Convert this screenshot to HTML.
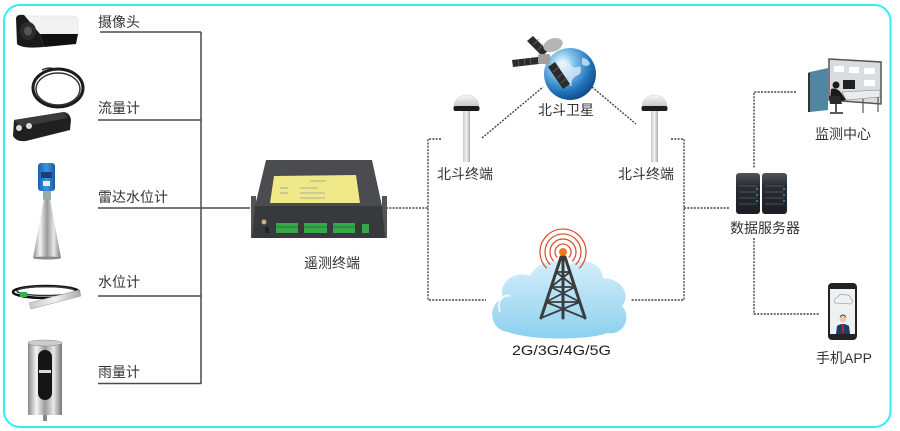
<!DOCTYPE html>
<html><head><meta charset="utf-8">
<style>
html,body{margin:0;padding:0;background:#fff;}
svg{display:block;}
text{font-family:"Liberation Sans","Noto Sans CJK SC",sans-serif;fill:#333;font-size:14px;}
</style></head>
<body>
<svg width="900" height="431" viewBox="0 0 900 431" xmlns="http://www.w3.org/2000/svg">
<defs>
  <linearGradient id="metal" x1="0" y1="0" x2="1" y2="0">
    <stop offset="0" stop-color="#8a8a8a"/><stop offset="0.25" stop-color="#f4f4f4"/>
    <stop offset="0.5" stop-color="#9a9a9a"/><stop offset="0.75" stop-color="#e8e8e8"/><stop offset="1" stop-color="#777"/>
  </linearGradient>
  <linearGradient id="pole" x1="0" y1="0" x2="1" y2="0">
    <stop offset="0" stop-color="#c8c8c8"/><stop offset="0.5" stop-color="#f2f2f2"/><stop offset="1" stop-color="#aaa"/>
  </linearGradient>
  <linearGradient id="dome" x1="0" y1="0" x2="0" y2="1">
    <stop offset="0" stop-color="#f8f8f8"/><stop offset="1" stop-color="#c9c9c9"/>
  </linearGradient>
  <linearGradient id="cloud" x1="0" y1="0" x2="0" y2="1">
    <stop offset="0" stop-color="#d4eefa"/><stop offset="1" stop-color="#8cd0ee"/>
  </linearGradient>
  <radialGradient id="globe" cx="0.35" cy="0.3" r="0.8">
    <stop offset="0" stop-color="#ffffff"/><stop offset="0.3" stop-color="#7ec0ea"/>
    <stop offset="0.7" stop-color="#1f70b8"/><stop offset="1" stop-color="#0c3d78"/>
  </radialGradient>
  <linearGradient id="srv" x1="0" y1="0" x2="0" y2="1">
    <stop offset="0" stop-color="#50555c"/><stop offset="0.3" stop-color="#2a2e34"/><stop offset="1" stop-color="#1b1e22"/>
  </linearGradient>
  <linearGradient id="blue" x1="0" y1="0" x2="1" y2="0">
    <stop offset="0" stop-color="#1f5fae"/><stop offset="0.5" stop-color="#3a96e0"/><stop offset="1" stop-color="#1d58a2"/>
  </linearGradient>
</defs>

<!-- frame -->
<rect x="4" y="5" width="886.5" height="422" rx="16" ry="16" fill="none" stroke="#2eeff4" stroke-width="2"/>

<!-- left tree lines -->
<g stroke="#4a4a4a" stroke-width="1.5" fill="none">
  <line x1="201" y1="32" x2="201" y2="384"/>
  <line x1="100" y1="32" x2="201" y2="32"/>
  <line x1="98" y1="120" x2="201" y2="120"/>
  <line x1="98" y1="208" x2="250" y2="208"/>
  <line x1="98" y1="296" x2="201" y2="296"/>
  <line x1="98" y1="383.5" x2="201" y2="383.5"/>
</g>

<!-- dotted connectors -->
<g stroke="#444" stroke-width="1.4" fill="none" stroke-dasharray="2,1.3">
  <polyline points="386,208 428,208"/>
  <polyline points="441,139 428,139 428,300 486,300"/>
  <polyline points="671,139 684,139 684,300 631,300"/>
  <polyline points="684,208 729,208"/>
  <polyline points="796,92 754,92 754,168"/>
  <polyline points="754,238 754,314 820,314"/>
  <line x1="482" y1="138" x2="543" y2="87"/>
  <line x1="592" y1="87" x2="636" y2="124"/>
</g>

<!-- camera -->
<g>
  <path d="M24,16 L74,16 Q78,17 78,22 L78,34 L40,34 Z" fill="#f2f2f2" stroke="#ddd" stroke-width="0.6"/>
  <path d="M40,34 L78,34 L76,44 L44,47 Z" fill="#111"/>
  <path d="M16,18 Q17,14 24,15 L40,34 L44,47 Q22,49 17,44 Z" fill="#1a1a1a"/>
  <ellipse cx="28" cy="31" rx="8" ry="9" fill="#2c2c2c"/>
  <ellipse cx="28" cy="31" rx="4" ry="4.5" fill="#555"/>
</g>

<!-- flow meter -->
<g>
  <ellipse cx="58" cy="88" rx="25" ry="19" fill="none" stroke="#1b1b1b" stroke-width="3"/>
  <ellipse cx="58" cy="89" rx="22" ry="16" fill="none" stroke="#333" stroke-width="1.5"/>
  <path d="M42,70 Q50,66 56,70" stroke="#222" stroke-width="1.2" fill="none"/>
  <path d="M14,120 L64,112 Q70,113 71,120 L70,130 L26,141 Q16,142 13,136 Z" fill="#202022"/>
  <path d="M14,120 L64,112 L68,118 L20,127 Z" fill="#3a3a3c"/>
  <circle cx="19" cy="128" r="3" fill="#ddd"/>
  <circle cx="29" cy="126" r="3" fill="#ddd"/>
</g>

<!-- radar level -->
<g>
  <rect x="38" y="163" width="17" height="28" rx="3" fill="url(#blue)"/>
  <rect x="41" y="172" width="11" height="6" fill="#1a3f70"/>
  <rect x="43" y="181" width="7" height="5" fill="#e8eef4"/>
  <rect x="43" y="191" width="8" height="9" fill="#9aa"/>
  <polygon points="44,199 50,199 61,258 33,258" fill="url(#metal)"/>
  <ellipse cx="47" cy="258" rx="14" ry="1.5" fill="#888"/>
</g>

<!-- water level -->
<g>
  <ellipse cx="46" cy="292" rx="33" ry="6" fill="none" stroke="#111" stroke-width="2.5"/>
  <ellipse cx="46" cy="291" rx="29" ry="4.5" fill="none" stroke="#333" stroke-width="1.5"/>
  <rect x="20" y="292" width="7" height="5" fill="#2fb34a"/>
  <polygon points="29,303 79,290 81,296 31,309" fill="url(#pole)" stroke="#999" stroke-width="0.5"/>
</g>

<!-- rain gauge -->
<g>
  <rect x="28" y="343" width="34" height="72" fill="url(#metal)"/>
  <ellipse cx="45" cy="343" rx="17" ry="3" fill="#ccc" stroke="#888" stroke-width="0.6"/>
  <rect x="38" y="350" width="14" height="50" rx="7" fill="#151515"/>
  <rect x="39" y="370" width="12" height="3" fill="#ddd"/>
  <rect x="43" y="415" width="4" height="6" fill="#888"/>
</g>

<!-- sensor labels -->
<text x="98" y="27">摄像头</text>
<text x="98" y="113">流量计</text>
<text x="98" y="202">雷达水位计</text>
<text x="98" y="287">水位计</text>
<text x="98" y="377">雨量计</text>

<!-- telemetry device -->
<g>
  <polygon points="251,196 256,196 256,238 251,238" fill="#555"/>
  <polygon points="382,196 387,196 387,238 382,238" fill="#555"/>
  <polygon points="266,160 372,160 382,206 255,206" fill="#4b4c4f"/>
  <polygon points="255,206 382,206 385,238 252,238" fill="#38393c"/>
  <polygon points="274,176 356,175 360,203 270,203" fill="#efe98a"/>
  <g stroke="#999" stroke-width="0.8">
    <line x1="310" y1="181" x2="326" y2="181"/>
    <line x1="280" y1="188" x2="288" y2="188"/>
    <line x1="300" y1="188" x2="318" y2="188"/>
    <line x1="280" y1="193" x2="288" y2="193"/>
    <line x1="300" y1="193" x2="325" y2="193"/>
    <line x1="300" y1="198" x2="325" y2="198"/>
  </g>
  <rect x="276" y="223" width="22" height="10" fill="#35a84a"/>
  <rect x="304" y="223" width="23" height="10" fill="#35a84a"/>
  <rect x="333" y="223" width="22" height="10" fill="#35a84a"/>
  <rect x="362" y="224" width="7" height="9" fill="#35a84a"/>
  <g stroke="#1d6b2a" stroke-width="0.7">
    <line x1="276" y1="227" x2="298" y2="227"/>
    <line x1="304" y1="227" x2="327" y2="227"/>
    <line x1="333" y1="227" x2="355" y2="227"/>
  </g>
  <circle cx="264" cy="222" r="2.5" fill="#c9b27a"/>
  <rect x="265" y="227" width="4" height="6" fill="#222"/>
</g>
<text x="304" y="268" font-size="14.5">遥测终端</text>

<!-- satellite -->
<g>
  <circle cx="570" cy="74" r="26" fill="url(#globe)"/>
  <path d="M560,62 q6,-4 10,2 q4,6 10,2 q3,8 -4,10 q-6,4 -4,10 q-8,-2 -8,-10 q-6,-4 -4,-14 Z" fill="#dfeff8" opacity="0.75"/>
  <path d="M582,58 q6,0 8,6 q-4,4 -8,0 Z" fill="#e6f3fa" opacity="0.7"/>
  <polygon points="512,60 538,57 539,64 513,67" fill="#2b2b2b"/>
  <polygon points="527,41 533,36 548,51 542,56" fill="#2b2b2b"/>
  <polygon points="548,67 555,62 570,84 563,89" fill="#2b2b2b"/>
  <g stroke="#777" stroke-width="0.6">
    <line x1="518" y1="59" x2="519" y2="66"/><line x1="524" y1="59" x2="525" y2="65"/><line x1="530" y1="58" x2="531" y2="65"/>
    <line x1="533" y1="45" x2="539" y2="39"/><line x1="538" y1="50" x2="543" y2="44"/>
    <line x1="553" y1="72" x2="559" y2="67"/><line x1="557" y1="78" x2="563" y2="73"/><line x1="561" y1="83" x2="567" y2="78"/>
  </g>
  <rect x="538" y="54" width="12" height="10" rx="2" fill="#a0a0a0"/>
  <ellipse cx="553" cy="45" rx="10" ry="6.5" fill="#b5b5b5" transform="rotate(-20 553 45)"/>
</g>
<text x="538" y="115">北斗卫星</text>

<!-- antennas -->
<g>
  <rect x="463" y="110" width="7" height="52" fill="url(#pole)"/>
  <path d="M454,106 A12.5,11 0 0 1 479,106 Z" fill="url(#dome)" stroke="#ccc" stroke-width="0.5"/>
  <rect x="453.5" y="106" width="26" height="5" rx="2" fill="#1c1c1c"/>
  <rect x="651" y="110" width="7" height="52" fill="url(#pole)"/>
  <path d="M642,106 A12.5,11 0 0 1 667,106 Z" fill="url(#dome)" stroke="#ccc" stroke-width="0.5"/>
  <rect x="641.5" y="106" width="26" height="5" rx="2" fill="#1c1c1c"/>
</g>
<text x="437" y="179">北斗终端</text>
<text x="618" y="179">北斗终端</text>

<!-- cloud + tower -->
<path d="M508,332 C490,330 486,306 503,298 C498,282 515,270 530,276 C536,262 556,257 568,266 C580,256 602,262 603,278 C620,278 632,294 622,306 C632,317 624,336 607,333 C590,340 532,341 508,332 Z" fill="url(#cloud)"/>
<path d="M500,312 C496,300 504,294 510,296" fill="none" stroke="#fff" stroke-width="2" opacity="0.8"/>
<g fill="none" stroke="#d9482b" stroke-width="1.2">
  <path d="M557.3,257.7 A8,8 0 1 1 568.7,257.7"/>
  <path d="M553.8,261.2 A13,13 0 1 1 572.2,261.2"/>
  <path d="M550.3,264.7 A18,18 0 1 1 575.7,264.7"/>
  <path d="M546.7,268.3 A23,23 0 1 1 579.3,268.3"/>
</g>
<circle cx="563" cy="252" r="4" fill="#f07a20"/>
<g stroke="#3c3c3c" stroke-width="3" fill="none" stroke-linecap="round">
  <line x1="561" y1="257" x2="541" y2="318"/>
  <line x1="565" y1="257" x2="585" y2="318"/>
  <line x1="563" y1="257" x2="563" y2="318"/>
</g>
<g stroke="#3c3c3c" stroke-width="1.8" fill="none">
  <line x1="556" y1="272" x2="570" y2="272"/>
  <line x1="551" y1="287" x2="575" y2="287"/>
  <line x1="546" y1="302" x2="580" y2="302"/>
  <line x1="556" y1="272" x2="575" y2="287"/><line x1="570" y1="272" x2="551" y2="287"/>
  <line x1="551" y1="287" x2="580" y2="302"/><line x1="575" y1="287" x2="546" y2="302"/>
  <line x1="546" y1="302" x2="585" y2="318"/><line x1="580" y1="302" x2="541" y2="318"/>
</g>
<text x="512" y="355" font-size="17" textLength="99" lengthAdjust="spacingAndGlyphs" style="fill:#222">2G/3G/4G/5G</text>

<!-- server -->
<g>
  <rect x="736" y="173" width="24" height="41" rx="3" fill="url(#srv)"/>
  <rect x="762" y="173" width="25" height="41" rx="3" fill="url(#srv)"/>
  <g stroke="#5a6068" stroke-width="0.8">
    <line x1="739" y1="186" x2="757" y2="186"/><line x1="739" y1="192" x2="757" y2="192"/><line x1="739" y1="198" x2="757" y2="198"/><line x1="739" y1="204" x2="757" y2="204"/>
    <line x1="765" y1="186" x2="784" y2="186"/><line x1="765" y1="192" x2="784" y2="192"/><line x1="765" y1="198" x2="784" y2="198"/><line x1="765" y1="204" x2="784" y2="204"/>
  </g>
  <g fill="#2fb6f0">
    <circle cx="757" cy="189" r="0.9"/><circle cx="757" cy="195" r="0.9"/><circle cx="757" cy="201" r="0.9"/>
    <circle cx="784" cy="189" r="0.9"/><circle cx="784" cy="195" r="0.9"/><circle cx="784" cy="201" r="0.9"/>
  </g>
</g>
<text x="730" y="233">数据服务器</text>

<!-- monitoring center -->
<g>
  <polygon points="829,59 881,62 881,104 829,100" fill="#d9dde0" stroke="#555" stroke-width="1.5"/>
  <g fill="#fff">
    <rect x="834" y="66" width="10" height="6"/><rect x="849" y="67" width="10" height="6"/><rect x="864" y="68" width="11" height="6"/>
    <rect x="864" y="80" width="11" height="6"/>
  </g>
  <polygon points="810,72 828,68 828,110 810,112" fill="#4f87a3"/>
  <polygon points="808,73 810,72 810,112 808,112" fill="#333"/>
  <polygon points="842,92 880,90 880,97 846,100" fill="#e8ecee" stroke="#888" stroke-width="0.6"/>
  <line x1="863" y1="99" x2="863" y2="113" stroke="#555" stroke-width="1.2"/>
  <line x1="878" y1="97" x2="878" y2="112" stroke="#555" stroke-width="1.2"/>
  <rect x="843" y="80" width="12" height="9" fill="#222"/>
  <circle cx="836" cy="85" r="3.5" fill="#1a1a1a"/>
  <path d="M831,89 Q837,87 842,94 L846,100 L836,102 L830,100 Z" fill="#1a1a1a"/>
  <path d="M829,96 L840,96 L842,104 L830,104 Z" fill="#2a2a2a"/>
  <line x1="836" y1="104" x2="836" y2="112" stroke="#222" stroke-width="1.5"/>
  <line x1="830" y1="113" x2="843" y2="113" stroke="#222" stroke-width="1.5"/>
</g>
<text x="815" y="139">监测中心</text>

<!-- phone -->
<g>
  <rect x="828" y="283" width="29" height="57" rx="4" fill="#222"/>
  <rect x="830" y="289" width="25" height="45" fill="#eef0f2"/>
  <path d="M835,303 q-2,-5 3,-6 q2,-4 7,-2 q5,-1 6,4 q3,2 0,5 Z" fill="none" stroke="#aaa" stroke-width="0.8"/>
  <path d="M836,334 L837,326 Q843,322 849,326 L850,334 Z" fill="#1c3c6a"/>
  <polygon points="842,325 844,325 843.8,333 842.2,333" fill="#c8232b"/>
  <circle cx="843" cy="319" r="3.3" fill="#f0c8a0"/>
  <path d="M839.7,318 q3.3,-5 6.6,0 q0,-3 -3.3,-3.5 q-3.3,0.5 -3.3,3.5Z" fill="#2a2a2a"/>
</g>
<text x="816" y="363">手机APP</text>
</svg>
</body></html>
